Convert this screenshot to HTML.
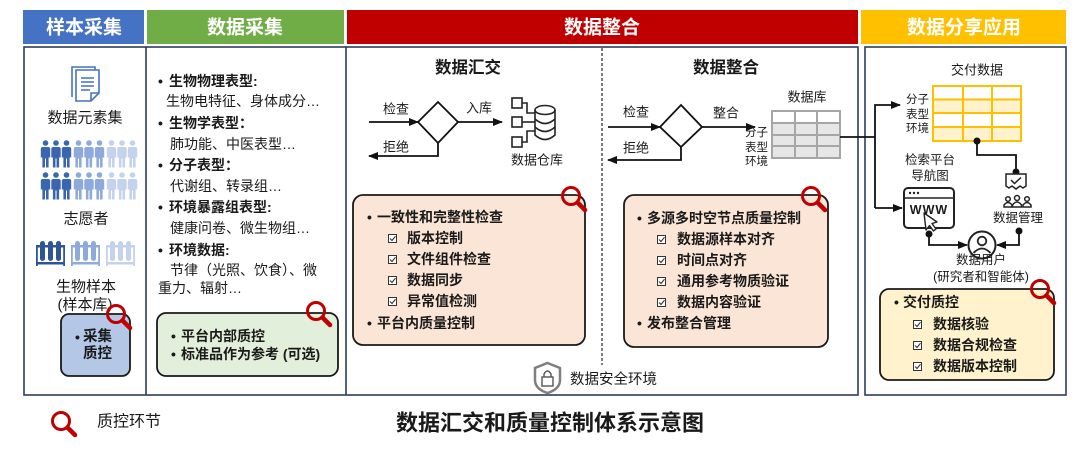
<!DOCTYPE html>
<html><head><meta charset="utf-8">
<style>
html,body{margin:0;padding:0;background:#fff;}
body{width:1080px;height:459px;overflow:hidden;position:relative;}
svg{position:absolute;left:0;top:0;}
text{font-family:"Liberation Sans","Noto Sans CJK SC",sans-serif;fill:#1a1a1a;dominant-baseline:central;}
.h{fill:#fff;font-size:19px;font-weight:bold;}
.b{font-weight:bold;}
</style></head><body>
<svg width="1080" height="459" viewBox="0 0 1080 459" xmlns="http://www.w3.org/2000/svg">
<defs>
<symbol id="mag" viewBox="0 0 28 28" overflow="visible">
 <circle cx="11" cy="11" r="8.5" fill="none" stroke="#c00000" stroke-width="3"/>
 <line x1="17.5" y1="17.5" x2="25" y2="25" stroke="#c00000" stroke-width="4.5" stroke-linecap="round"/>
</symbol>
<symbol id="cb" viewBox="0 0 9 9" overflow="visible">
 <rect x="0.5" y="0.5" width="8" height="8" fill="#fff" stroke="#333" stroke-width="1"/>
 <path d="M2 4.5 L4 6.5 L7.5 2.2" fill="none" stroke="#333" stroke-width="1.1"/>
</symbol>
<symbol id="pp" viewBox="0 0 11 28" overflow="visible">
 <circle cx="5.5" cy="3" r="2.8"/>
 <path d="M0.8 9 Q0.8 7 2.8 7 H8.2 Q10.2 7 10.2 9 V17.5 H8.6 V27.5 H6 V18.5 H5 V27.5 H2.4 V17.5 H0.8 Z"/>
</symbol>
<symbol id="grp" viewBox="0 0 32 28" overflow="visible">
 <use href="#pp" x="0" y="0" width="11" height="28"/>
 <use href="#pp" x="10.5" y="0" width="11" height="28"/>
 <use href="#pp" x="21" y="0" width="11" height="28"/>
</symbol>
<symbol id="tt" viewBox="0 0 29 25" overflow="visible">
 <rect x="0" y="4" width="29" height="2.5"/>
 <rect x="4" y="0" width="5" height="20" rx="2.5"/>
 <rect x="12" y="0" width="5" height="20" rx="2.5"/>
 <rect x="20" y="0" width="5" height="20" rx="2.5"/>
 <rect x="0" y="21" width="29" height="2.5"/>
 <rect x="0" y="4" width="1.8" height="21"/>
 <rect x="27.2" y="4" width="1.8" height="21"/>
</symbol>
<marker id="ah" markerWidth="10" markerHeight="8" refX="9" refY="4" orient="auto" markerUnits="userSpaceOnUse">
 <path d="M0,0 L10,4 L0,8 z" fill="#111"/>
</marker>
</defs>

<!-- headers -->
<rect x="23" y="10" width="121" height="34" fill="#4472c4"/>
<rect x="147" y="10" width="197" height="34" fill="#70ad47"/>
<rect x="347" y="10" width="511" height="34" fill="#c00000"/>
<rect x="861" y="10" width="205" height="34" fill="#ffc000"/>
<text class="h" x="84" y="28" text-anchor="middle">样本采集</text>
<text class="h" x="245" y="28" text-anchor="middle">数据采集</text>
<text class="h" x="602" y="28" text-anchor="middle">数据整合</text>
<text class="h" x="964" y="28" text-anchor="middle">数据分享应用</text>

<!-- panels -->
<rect x="24" y="47" width="834" height="348" fill="none" stroke="#2e3d5c" stroke-width="1.6"/>
<line x1="146" y1="47" x2="146" y2="395" stroke="#2e3d5c" stroke-width="1.6"/>
<line x1="346" y1="47" x2="346" y2="395" stroke="#2e3d5c" stroke-width="1.6"/>
<rect x="865" y="47" width="201" height="348" fill="none" stroke="#2e3d5c" stroke-width="1.6"/>
<line x1="602" y1="48" x2="602" y2="365" stroke="#222" stroke-width="1.2" stroke-dasharray="3,2"/>

<!-- ===== left panel ===== -->
<g fill="none" stroke="#4472c4" stroke-width="1.6">
 <path d="M72 97 V67 H95 V70"/>
 <path d="M76 70 H99 V93 L91 101 H76 Z" fill="#fff"/>
 <path d="M99 93 H91 V101"/>
 <path d="M81 78 H94 M81 82 H94 M81 86 H94 M81 90 H90"/>
</g>
<text x="85" y="118" font-size="15" text-anchor="middle">数据元素集</text>
<use href="#grp" x="40" y="140" width="32" height="28" fill="#3a66b0"/>
<use href="#grp" x="73" y="140" width="32" height="28" fill="#8eaadc"/>
<use href="#grp" x="106" y="140" width="32" height="28" fill="#c3d3ee"/>
<use href="#grp" x="40" y="172" width="32" height="28" fill="#3a66b0"/>
<use href="#grp" x="73" y="172" width="32" height="28" fill="#8eaadc"/>
<use href="#grp" x="106" y="172" width="32" height="28" fill="#c3d3ee"/>
<text x="86" y="219" font-size="15" text-anchor="middle">志愿者</text>
<use href="#tt" x="36" y="241" width="29" height="25" fill="#2f5597"/>
<use href="#tt" x="71" y="241" width="29" height="25" fill="#8eaadc"/>
<use href="#tt" x="106" y="241" width="29" height="25" fill="#c3d3ee"/>
<text x="86" y="287" font-size="15" text-anchor="middle">生物样本</text>
<text x="85" y="305" font-size="15" text-anchor="middle">(样本库)</text>
<rect x="61" y="314" width="69" height="62" rx="8" fill="#b4c7e7" stroke="#1a1a1a" stroke-width="1.8"/>
<text x="75" y="337" font-size="14" class="b">•</text>
<text x="83" y="337" font-size="14.5" class="b">采集</text>
<text x="83" y="354" font-size="14.5" class="b">质控</text>
<use href="#mag" x="105" y="303" width="28" height="28"/>

<!-- ===== green panel ===== -->
<g font-size="14">
<text x="158" y="81" class="b">•</text><text x="169" y="81" class="b">生物物理表型:</text>
<text x="166" y="101">生物电特征、身体成分…</text>
<text x="158" y="123" class="b">•</text><text x="169" y="123" class="b">生物学表型：</text>
<text x="170" y="144">肺功能、中医表型…</text>
<text x="158" y="165" class="b">•</text><text x="169" y="165" class="b">分子表型：</text>
<text x="170" y="186">代谢组、转录组…</text>
<text x="158" y="207" class="b">•</text><text x="169" y="207" class="b">环境暴露组表型:</text>
<text x="170" y="228">健康问卷、微生物组…</text>
<text x="158" y="250" class="b">•</text><text x="169" y="250" class="b">环境数据:</text>
<text x="170" y="270">节律（光照、饮食）、微</text>
<text x="158" y="288">重力、辐射…</text>
</g>
<rect x="157" y="313" width="181" height="63" rx="9" fill="#e2efda" stroke="#1a1a1a" stroke-width="1.8"/>
<g font-size="14" class="b">
<text x="171" y="336" class="b">•</text><text x="181" y="336" class="b">平台内部质控</text>
<text x="171" y="354" class="b">•</text><text x="181" y="354" class="b">标准品作为参考 (可选)</text>
</g>
<use href="#mag" x="305" y="300" width="28" height="28"/>

<!-- ===== red panel: 数据汇交 ===== -->
<text x="468" y="68" font-size="16.5" class="b" text-anchor="middle">数据汇交</text>
<text x="383" y="109" font-size="13" fill="#333">检查</text>
<text x="466" y="108" font-size="13" fill="#333">入库</text>
<text x="383" y="147" font-size="13" fill="#333">拒绝</text>
<g stroke="#111" stroke-width="1.8" fill="none">
 <line x1="369" y1="122" x2="418" y2="122" marker-end="url(#ah)"/>
 <polygon points="438,102 458,122 438,143 418,122" fill="#fff"/>
 <line x1="458" y1="122" x2="502" y2="122" marker-end="url(#ah)"/>
 <polyline points="438,143 438,156 369,156" marker-end="url(#ah)"/>
</g>
<g stroke="#222" stroke-width="1.6" fill="none">
 <rect x="512" y="98" width="10" height="10"/>
 <rect x="512" y="117" width="10" height="10"/>
 <rect x="512" y="137" width="10" height="10"/>
 <path d="M522 103 H527 V113 H535"/>
 <path d="M522 122 H535"/>
 <path d="M522 142 H527 V131 H535"/>
 <ellipse cx="545" cy="110" rx="10" ry="4.5"/>
 <path d="M535 110 V135 Q545 144 555 135 V110"/>
 <path d="M535 119 Q545 128 555 119"/>
 <path d="M535 127 Q545 136 555 127"/>
</g>
<text x="537" y="160" font-size="13" text-anchor="middle" fill="#333">数据仓库</text>

<rect x="353" y="195" width="232" height="150" rx="10" fill="#fbe5d6" stroke="#1a1a1a" stroke-width="1.8"/>
<g font-size="14">
<text x="367" y="217" class="b">•</text><text x="377" y="217" class="b">一致性和完整性检查</text>
<use href="#cb" x="388" y="234" width="9" height="9"/><text x="407" y="238" class="b">版本控制</text>
<use href="#cb" x="388" y="255" width="9" height="9"/><text x="407" y="259" class="b">文件组件检查</text>
<use href="#cb" x="388" y="276" width="9" height="9"/><text x="407" y="280" class="b">数据同步</text>
<use href="#cb" x="388" y="297" width="9" height="9"/><text x="407" y="301" class="b">异常值检测</text>
<text x="367" y="323" class="b">•</text><text x="377" y="323" class="b">平台内质量控制</text>
</g>
<use href="#mag" x="560" y="185" width="28" height="28"/>

<!-- ===== red panel: 数据整合 ===== -->
<text x="726" y="68" font-size="16.5" class="b" text-anchor="middle">数据整合</text>
<text x="623" y="112" font-size="13" fill="#333">检查</text>
<text x="713" y="113" font-size="13" fill="#333">整合</text>
<text x="623" y="148" font-size="13" fill="#333">拒绝</text>
<g stroke="#111" stroke-width="1.8" fill="none">
 <line x1="608" y1="127" x2="660" y2="127" marker-end="url(#ah)"/>
 <polygon points="681,105 702,127 681,147 660,127" fill="#fff"/>
 <line x1="702" y1="127" x2="755" y2="127" marker-end="url(#ah)"/>
 <polyline points="681,147 681,160 608,160" marker-end="url(#ah)"/>
</g>
<text x="807" y="97" font-size="13" text-anchor="middle" fill="#333">数据库</text>
<g stroke="#a6a6a6" stroke-width="2">
 <rect x="772" y="111" width="68" height="12" fill="#fff"/>
 <rect x="772" y="123" width="68" height="35" fill="#e7e6e6"/>
 <line x1="772" y1="135" x2="840" y2="135"/>
 <line x1="772" y1="146" x2="840" y2="146"/>
 <line x1="795" y1="111" x2="795" y2="158"/>
 <line x1="817" y1="111" x2="817" y2="158"/>
</g>
<g font-size="11.5" fill="#333">
<text x="745" y="133">分子</text>
<text x="745" y="148">表型</text>
<text x="745" y="162">环境</text>
</g>

<rect x="624" y="195" width="204" height="152" rx="10" fill="#fbe5d6" stroke="#1a1a1a" stroke-width="1.8"/>
<g font-size="14">
<text x="637" y="218" class="b">•</text><text x="647" y="218" class="b">多源多时空节点质量控制</text>
<use href="#cb" x="657" y="235" width="9" height="9"/><text x="677" y="239" class="b">数据源样本对齐</text>
<use href="#cb" x="657" y="256" width="9" height="9"/><text x="677" y="260" class="b">时间点对齐</text>
<use href="#cb" x="657" y="277" width="9" height="9"/><text x="677" y="281" class="b">通用参考物质验证</text>
<use href="#cb" x="657" y="298" width="9" height="9"/><text x="677" y="302" class="b">数据内容验证</text>
<text x="637" y="323" class="b">•</text><text x="647" y="323" class="b">发布整合管理</text>
</g>
<use href="#mag" x="800" y="185" width="28" height="28"/>

<!-- lock -->
<path d="M547.5 363 L560 368 V380 Q560 389 547.5 393 Q535 389 535 380 V368 Z" fill="#fff" stroke="#7f7f7f" stroke-width="2.5"/>
<rect x="542" y="377" width="11" height="9" fill="none" stroke="#555" stroke-width="1.4"/>
<path d="M544 377 V374 Q547.5 368 551 374 V377" fill="none" stroke="#555" stroke-width="1.4"/>
<text x="570" y="380" font-size="14.5" fill="#404040">数据安全环境</text>

<!-- connector to yellow -->
<g stroke="#111" stroke-width="1.8" fill="none">
 <line x1="840" y1="137" x2="875" y2="137"/>
 <polyline points="875,208 875,105 900,105" marker-end="url(#ah)"/>
 <line x1="875" y1="208" x2="902" y2="208" marker-end="url(#ah)"/>
</g>

<!-- ===== yellow panel ===== -->
<text x="977" y="70" font-size="13" text-anchor="middle" fill="#222">交付数据</text>
<g font-size="11.5" fill="#333">
<text x="906" y="100">分子</text>
<text x="906" y="115">表型</text>
<text x="906" y="129">环境</text>
</g>
<g stroke="#ffc000" stroke-width="2">
 <rect x="933" y="86" width="88" height="13.5" fill="#fff"/>
 <rect x="933" y="99.5" width="88" height="13.5" fill="#fff2cc"/>
 <rect x="933" y="113" width="88" height="14" fill="#fff"/>
 <rect x="933" y="127" width="88" height="14" fill="#fff2cc"/>
 <line x1="963" y1="86" x2="963" y2="141"/>
 <line x1="992" y1="86" x2="992" y2="141"/>
</g>
<g stroke="#111" stroke-width="1.8" fill="none">
 <polyline points="977,141 977,155 1016,155 1016,172"/>
</g>
<circle cx="977" cy="141" r="3.5" fill="#111"/>
<circle cx="1016" cy="172" r="3.5" fill="#111"/>
<!-- data mgmt icon -->
<g stroke="#222" stroke-width="1.5" fill="#fff">
 <path d="M1006 174 H1026 V186 L1023 188 L1020 186 L1016 189 L1012 186 L1009 188 L1006 186 Z"/>
 <path d="M1011 180 L1014.5 183.5 L1021 177.5" fill="none"/>
 <circle cx="1008" cy="199" r="2.3"/>
 <path d="M1004 207 V205 Q1008 200 1012 205 V207 Z"/>
 <circle cx="1017" cy="198" r="2.5"/>
 <path d="M1012.5 207 V205 Q1017 199 1021.5 205 V207 Z"/>
 <circle cx="1027" cy="199" r="2.3"/>
 <path d="M1023 207 V205 Q1027 200 1031 205 V207 Z"/>
</g>
<text x="1018" y="218" font-size="12.5" text-anchor="middle" fill="#222">数据管理</text>

<text x="930" y="160" font-size="12.5" text-anchor="middle" fill="#222">检索平台</text>
<text x="930" y="176" font-size="12.5" text-anchor="middle" fill="#222">导航图</text>
<!-- browser -->
<rect x="904" y="188" width="50" height="40" rx="4" fill="#fff" stroke="#222" stroke-width="2"/>
<line x1="904" y1="198" x2="954" y2="198" stroke="#222" stroke-width="1.6"/>
<circle cx="910" cy="193" r="1.2" fill="#222"/><circle cx="914" cy="193" r="1.2" fill="#222"/><circle cx="918" cy="193" r="1.2" fill="#222"/>
<text x="929" y="210" font-size="12.5" class="b" text-anchor="middle" letter-spacing="1">WWW</text>
<path d="M924 213 L926 230 L929.5 225.5 L933.5 231 L936 229 L932 223.5 L937 222 Z" fill="#fff" stroke="#222" stroke-width="1.4" stroke-linejoin="round"/>

<g stroke="#111" stroke-width="1.8" fill="none">
 <polyline points="929,234 929,245 967,245" marker-end="url(#ah)"/>
 <polyline points="1019,231 1019,245 997,245" marker-end="url(#ah)"/>
</g>
<circle cx="929" cy="234" r="3.5" fill="#111"/>
<circle cx="1019" cy="231" r="3.5" fill="#111"/>
<!-- user -->
<circle cx="982" cy="245" r="13.5" fill="#fff" stroke="#222" stroke-width="2"/>
<circle cx="982" cy="241" r="4.3" fill="none" stroke="#222" stroke-width="1.8"/>
<path d="M973.5 253 Q982 244 990.5 253" fill="none" stroke="#222" stroke-width="1.8"/>
<text x="981" y="260" font-size="12.5" text-anchor="middle" fill="#222">数据用户</text>
<text x="981" y="277" font-size="12.5" text-anchor="middle" fill="#222">(研究者和智能体)</text>

<rect x="880" y="289" width="174" height="91" rx="9" fill="#fff2cc" stroke="#1a1a1a" stroke-width="1.8"/>
<g font-size="14">
<text x="894" y="302" class="b">•</text><text x="903" y="302" class="b">交付质控</text>
<use href="#cb" x="913" y="320" width="9" height="9"/><text x="933" y="324" class="b">数据核验</text>
<use href="#cb" x="913" y="341" width="9" height="9"/><text x="933" y="345" class="b">数据合规检查</text>
<use href="#cb" x="913" y="362" width="9" height="9"/><text x="933" y="366" class="b">数据版本控制</text>
</g>
<use href="#mag" x="1029" y="278" width="28" height="28"/>

<!-- legend & title -->
<use href="#mag" x="50" y="410" width="28" height="28"/>
<text x="97" y="422" font-size="16" fill="#222">质控环节</text>
<text x="550" y="423" font-size="22" class="b" text-anchor="middle">数据汇交和质量控制体系示意图</text>
</svg>
</body></html>
